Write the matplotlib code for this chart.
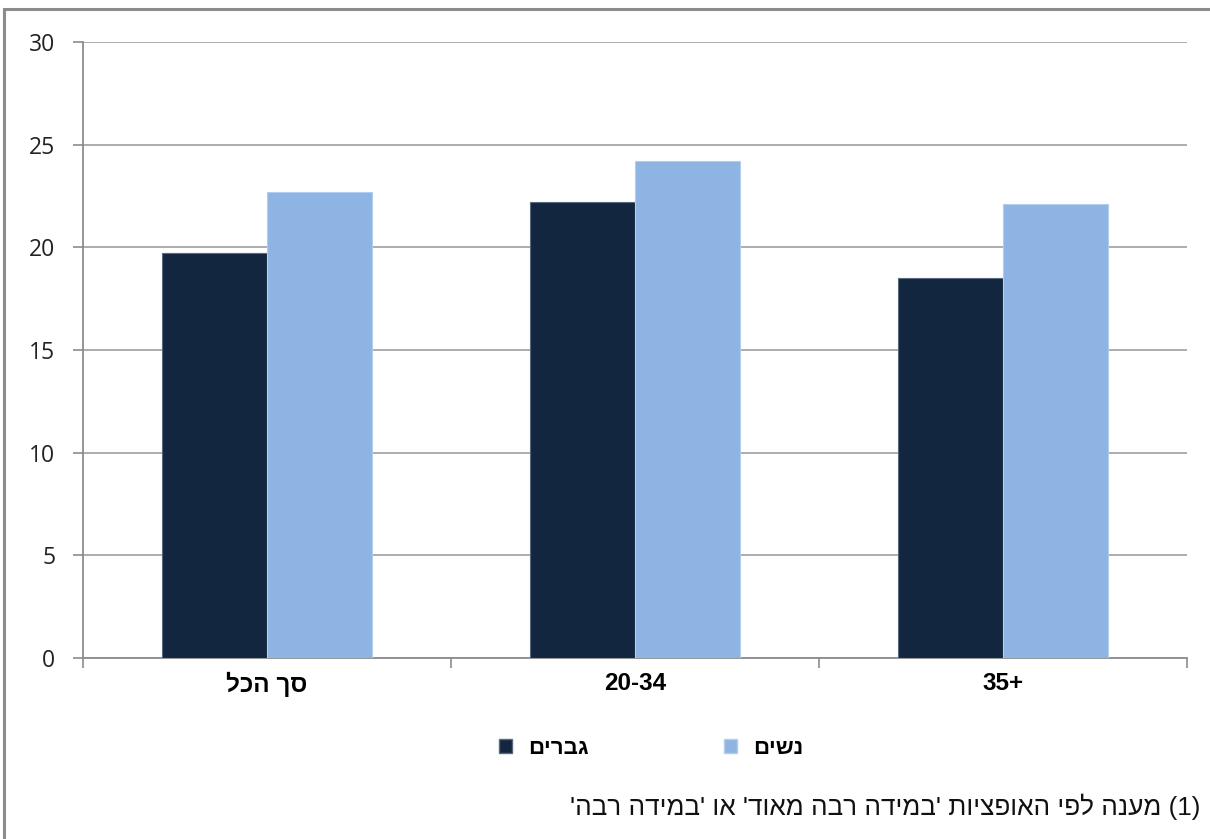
import matplotlib
matplotlib.use("Agg")
import matplotlib.pyplot as plt
import numpy as np
from matplotlib.patches import Rectangle, Patch

# ---- data ----
categories = ["סך הכל", "20-34", "35+"]
series_names = ["גברים", "נשים"]
men = [19.7, 22.2, 18.5]
women = [22.7, 24.2, 22.1]
yticks = [0, 5, 10, 15, 20, 25, 30]
footnote = "(1) מענה לפי האופציות 'במידה רבה מאוד' או 'במידה רבה'"

colors = ["#12263F", "#8EB4E3"]
edge_colors = ["#5A6A80", "#B4CDEE"]


def vis(s):
    """Convert logical RTL Hebrew text into visual (LTR drawing) order."""
    if not any("\u0590" <= c <= "\u05FF" for c in s):
        return s
    mirror = {"(": ")", ")": "("}
    return "".join(mirror.get(c, c) for c in reversed(s))


HEB = ["Liberation Sans", "DejaVu Sans"]
NUM = ["Open Sans", "DejaVu Sans"]

W, H = 1210, 839
fig = plt.figure(figsize=(W / 100, H / 100), dpi=100)

# outer frame
fig.patches.append(Rectangle((4 / W, -0.1), 1.2, 1 - 9 / H + 0.1,
                             transform=fig.transFigure, fill=False,
                             edgecolor="#8C8C8C", linewidth=2.2, zorder=0))

ax = fig.add_axes([83 / W, 1 - 658 / H, (1187 - 83) / W, (658 - 42) / H])
x = np.arange(len(categories))
bw = 0.286
ax.bar(x - bw / 2, men, bw, color=colors[0], edgecolor=edge_colors[0],
       linewidth=0.8, zorder=3)
ax.bar(x + bw / 2, women, bw, color=colors[1], edgecolor=edge_colors[1],
       linewidth=0.8, zorder=3)

ax.set_xlim(-0.5, len(categories) - 0.5)
ax.set_ylim(0, 30)
ax.set_yticks(yticks)
ax.set_yticklabels([str(t) for t in yticks], fontsize=16.5, family=NUM,
                   color="#222222")
ax.yaxis.grid(True, color="#A6A6A6", linewidth=1.3, zorder=0)
ax.set_axisbelow(True)

# x ticks at category boundaries, labels at centers
ax.set_xticks(np.arange(-0.5, len(categories), 1.0))
ax.set_xticklabels([])
ax.set_xticks(x, minor=True)
ax.set_xticklabels([vis(c) for c in categories], minor=True, fontsize=17.5,
                   fontweight="bold", family=HEB)
ax.tick_params(axis="x", which="minor", length=0, pad=10)
ax.tick_params(axis="x", which="major", length=7, color="#8C8C8C", width=1.2)
ax.tick_params(axis="y", length=7, color="#8C8C8C", width=1.2, pad=13)

for s in ["top", "right"]:
    ax.spines[s].set_visible(False)
for s in ["left", "bottom"]:
    ax.spines[s].set_color("#8C8C8C")
    ax.spines[s].set_linewidth(1.3)

handles = [Patch(facecolor=colors[0], edgecolor=edge_colors[0]),
           Patch(facecolor=colors[1], edgecolor=edge_colors[1])]
leg = fig.legend(handles, [vis(n) for n in series_names], ncol=2,
                 loc="center", bbox_to_anchor=(651 / W, 1 - 748 / H),
                 frameon=False, handlelength=0.6, handleheight=0.6,
                 handletextpad=0.7, columnspacing=6.1,
                 prop={"family": HEB, "weight": "bold", "size": 16})

fig.text(1200 / W, 1 - 807 / H, vis(footnote), ha="right", va="center",
         fontsize=18.8, family=HEB, color="#111111")

fig.savefig("out.png", dpi=100)
